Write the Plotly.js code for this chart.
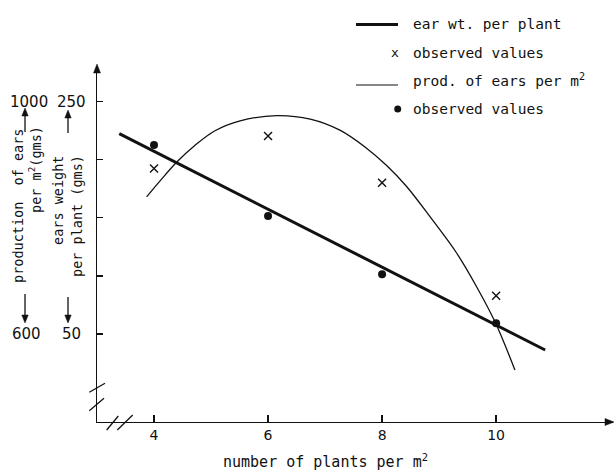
<!DOCTYPE html>
<html>
<head>
<meta charset="utf-8">
<script src="https://cdn.plot.ly/plotly-3.0.1.min.js"></script>
<style>html,body{margin:0;padding:0;background:#fff;}#chart{width:614px;height:475px;}</style>
</head>
<body>
<div id="chart"></div>
<script>
// ---- data ----
const xTicks = [4, 6, 8, 10];
const xTickLabels = ['4', '6', '8', '10'];
const earTicks = [50, 100, 150, 200, 250];

const xObs = [4, 6, 8, 10];
const earObs = [212.7, 151.6, 101.4, 59.2];      // ear weight per plant (gms), dots
const prodObs = [885, 941, 860.5, 666];           // production of ears per m2 (gms), crosses

const fitX = [3.39, 10.86];                       // fitted ear wt. per plant line
const fitEar = [222.5, 36.2];

const curveX = [3.87, 4.11, 4.40, 4.72, 5.07, 5.51, 6.15, 6.74, 7.26, 7.70, 8.08, 8.43, 8.84, 9.31, 9.66, 9.98, 10.33];
const curveProd = [836, 864, 896, 925, 950, 967, 976, 970, 951, 922, 890, 854, 802, 739, 681, 621, 538];

// ---- layout helpers (pixel -> paper) ----
const L = 97, T = 66, W = 516, H = 356;
const px = x => (x - L) / W;
const py = y => (T + H - y) / H;
const mono = 'DejaVu Sans Mono';
const ink = '#111';

const traces = [
  {x: curveX, y: curveProd, yaxis: 'y2', type: 'scatter', mode: 'lines',
   line: {color: ink, width: 1.3, shape: 'spline', smoothing: 1}, hoverinfo: 'skip'},
  {x: fitX, y: fitEar, type: 'scatter', mode: 'lines',
   line: {color: ink, width: 3}, hoverinfo: 'skip'},
  {x: xObs, y: prodObs, yaxis: 'y2', type: 'scatter', mode: 'markers',
   marker: {symbol: 'x-thin-open', size: 8, color: ink, line: {color: ink, width: 1.4}}},
  {x: xObs, y: earObs, type: 'scatter', mode: 'markers',
   marker: {symbol: 'circle', size: 8, color: ink}}
];

function seg(x0, y0, x1, y1, w) {
  return {type: 'line', xref: 'paper', yref: 'paper', x0: px(x0), y0: py(y0), x1: px(x1), y1: py(y1),
          line: {color: ink, width: w}};
}
function tri(points) {
  const d = points.map((p, i) => (i ? 'L' : 'M') + px(p[0]) + ',' + py(p[1])).join(' ') + ' Z';
  return {type: 'path', xref: 'paper', yref: 'paper', path: d, fillcolor: ink, line: {color: ink, width: 0.5}};
}
function txt(text, x, y, opts) {
  return Object.assign({text: text, xref: 'paper', yref: 'paper', x: px(x), y: py(y),
    xanchor: 'left', yanchor: 'middle', showarrow: false,
    font: {family: mono, size: 14.5, color: ink}}, opts || {});
}
// vertical arrow: shaft + head
function vArrow(x, yTail, yTip) {
  const dir = yTip < yTail ? -1 : 1;
  return [seg(x, yTail, x, yTip - dir * 4, 1.3),
          tri([[x, yTip], [x - 3.2, yTip - dir * 8], [x + 3.2, yTip - dir * 8]])];
}

const shapes = [
  // axis arrowheads
  tri([[614, 422], [605, 418.5], [605, 425.5]]),
  tri([[97, 64], [93.5, 73], [100.5, 73]]),
  // axis breaks
  seg(89.3, 392.3, 105, 383.3, 1.3),
  seg(89.3, 410.7, 104, 398.3, 1.3),
  seg(106.7, 430, 118.3, 416, 1.3),
  seg(117.3, 430, 132.7, 415, 1.3),
  // legend line samples
  seg(356, 24.5, 398, 24.5, 3),
  seg(356, 85, 398, 85, 1.2),
  {type: 'circle', xref: 'paper', yref: 'paper', x0: px(394.2), x1: px(401.2), y0: py(105.5), y1: py(112.5),
   fillcolor: ink, line: {color: ink, width: 0}}
].concat(vArrow(25, 132, 108), vArrow(68, 133, 110), vArrow(25, 294, 323), vArrow(68, 297, 323));

const annotations = [
  // legend
  txt('ear wt. per plant', 411, 24),
  txt('x', 395.3, 52, {xanchor: 'center', font: {family: mono, size: 13, color: ink}}),
  txt('observed values', 411, 52.7),
  txt('prod. of ears per m<sup>2</sup>', 411, 80),
  txt('observed values', 411, 109),
  // x title
  txt('number of plants per m<sup>2</sup>', 325, 461, {xanchor: 'center', font: {family: mono, size: 15, color: ink}}),
  // left scale labels
  txt('1000', 29, 101.7, {xanchor: 'center', font: {family: 'DejaVu Sans', size: 15, color: ink}}),
  txt('250', 71, 101.7, {xanchor: 'center', font: {family: 'DejaVu Sans', size: 15, color: ink}}),
  txt('600', 26, 334, {xanchor: 'center', font: {family: 'DejaVu Sans', size: 15, color: ink}}),
  txt('50', 71, 334, {xanchor: 'center', font: {family: 'DejaVu Sans', size: 15, color: ink}}),
  // rotated axis labels
  txt('production  of ears', 18, 206, {xanchor: 'center', textangle: -90, font: {family: mono, size: 13.5, color: ink}}),
  txt('per m<sup>2</sup>(gms)', 35, 170, {xanchor: 'center', textangle: -90, font: {family: mono, size: 13.5, color: ink}}),
  txt('ears weight', 58, 201, {xanchor: 'center', textangle: -90, font: {family: mono, size: 13.5, color: ink}}),
  txt('per plant (gms)', 77, 216, {xanchor: 'center', textangle: -90, font: {family: mono, size: 13.5, color: ink}})
];

const layout = {
  width: 614, height: 475,
  margin: {l: L, r: 614 - L - W, t: T, b: 475 - T - H, pad: 0},
  paper_bgcolor: '#fff', plot_bgcolor: '#fff',
  showlegend: false,
  xaxis: {range: [3.0, 12.05], showgrid: false, zeroline: false, showline: true,
          linecolor: ink, linewidth: 1.3, ticks: 'inside', ticklen: 7, tickwidth: 1.3, tickcolor: ink,
          tickvals: xTicks, ticktext: xTickLabels,
          tickfont: {family: 'DejaVu Sans', size: 14, color: ink}, fixedrange: true},
  yaxis: {range: [-25.76, 280.7], showgrid: false, zeroline: false, showline: true,
          linecolor: ink, linewidth: 1.3, ticks: 'inside', ticklen: 6, tickwidth: 1.3, tickcolor: ink,
          tickvals: earTicks, showticklabels: false, fixedrange: true},
  yaxis2: {range: [448.5, 1061.4], overlaying: 'y', visible: false, fixedrange: true},
  shapes: shapes,
  annotations: annotations
};

Plotly.newPlot('chart', traces, layout, {displayModeBar: false, staticPlot: true});
</script>
</body>
</html>
